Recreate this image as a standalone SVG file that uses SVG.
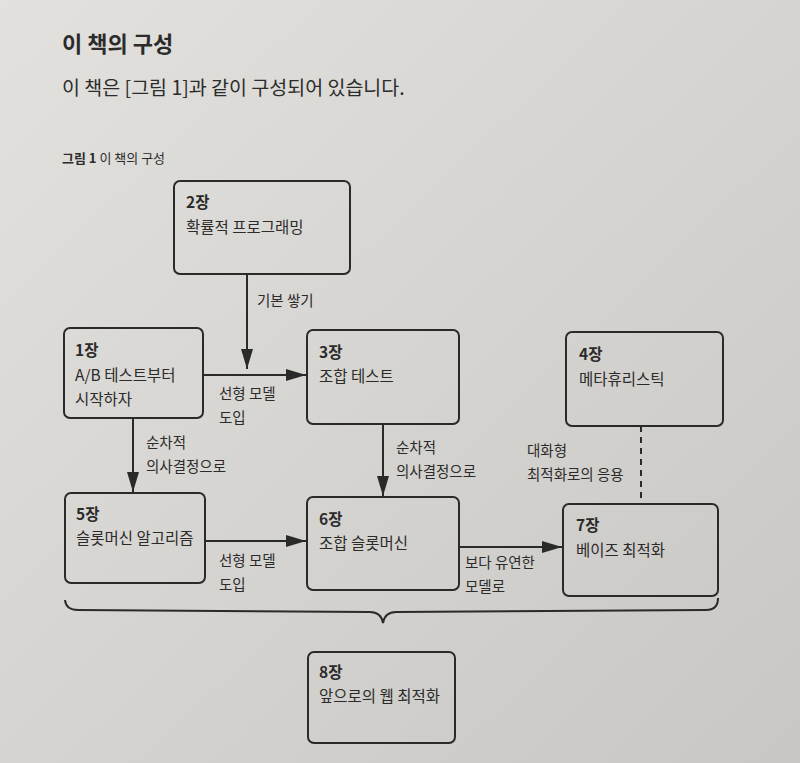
<svg xmlns="http://www.w3.org/2000/svg" width="800" height="763" viewBox="0 0 800 763">
<defs>
<linearGradient id="bg" x1="0" y1="0" x2="1" y2="1">
<stop offset="0" stop-color="#e2e1de"/>
<stop offset="0.5" stop-color="#d6d4d0"/>
<stop offset="1" stop-color="#c9c7c3"/>
</linearGradient>
<marker id="ahL" viewBox="0 0 20 12" refX="20" refY="6" markerWidth="20" markerHeight="12" markerUnits="userSpaceOnUse" orient="auto">
<path d="M0,0 L20,6 L0,12 z" fill="#2a2a2a"/>
</marker>
</defs>
<style>
text { font-family: "Noto Sans CJK KR", "Noto Sans", sans-serif; fill: #2b2b2b; }
.box { fill: none; stroke: #2a2a2a; stroke-width: 2; }
.t { font-size: 15.5px; }
.n { font-size: 15.5px; font-weight: bold; }
.lbl { font-size: 14.5px; }
.ln { stroke: #2a2a2a; stroke-width: 2; fill: none; }
</style>
<rect width="800" height="763" fill="url(#bg)"/>
<text x="62" y="52" style="font-size:22px;font-weight:bold;">이 책의 구성</text>
<text x="62" y="95" style="font-size:19.5px;">이 책은 [그림 1]과 같이 구성되어 있습니다.</text>
<text x="62" y="163" style="font-size:13px;"><tspan font-weight="bold">그림 1</tspan> 이 책의 구성</text>

<g id="connectors">
<line class="ln" x1="247" y1="274" x2="247" y2="369" marker-end="url(#ahL)"/>
<line class="ln" x1="203" y1="375" x2="306" y2="375" marker-end="url(#ahL)"/>
<line class="ln" x1="133" y1="418" x2="133" y2="492" marker-end="url(#ahL)"/>
<line class="ln" x1="383" y1="424" x2="383" y2="496" marker-end="url(#ahL)"/>
<line class="ln" x1="205" y1="541" x2="306" y2="541" marker-end="url(#ahL)"/>
<line class="ln" x1="459" y1="547" x2="562" y2="547" marker-end="url(#ahL)"/>
<line class="ln" x1="641" y1="426" x2="641" y2="504" stroke-dasharray="6,5"/>
<path class="ln" d="M65,600 Q66,610 78,610 L370,612 Q381,612 383,623 Q385,612 396,612 L706,610 Q718,610 718,598"/>
<text class="lbl" x="257" y="306">기본 쌓기</text>
<text class="lbl" x="219" y="399">선형 모델</text>
<text class="lbl" x="219" y="423">도입</text>
<text class="lbl" x="146" y="448">순차적</text>
<text class="lbl" x="146" y="472">의사결정으로</text>
<text class="lbl" x="396" y="453">순차적</text>
<text class="lbl" x="396" y="477">의사결정으로</text>
<text class="lbl" x="527" y="456">대화형</text>
<text class="lbl" x="527" y="480">최적화로의 응용</text>
<text class="lbl" x="219" y="566">선형 모델</text>
<text class="lbl" x="219" y="590">도입</text>
<text class="lbl" x="465" y="568">보다 유연한</text>
<text class="lbl" x="465" y="592">모델로</text>
</g>

<g id="n2"><rect class="box" x="174" y="181" width="176" height="93" rx="6"/><text class="n" x="186" y="208">2장</text><text class="t" x="186" y="233">확률적 프로그래밍</text></g>
<g id="n1"><rect class="box" x="64" y="328" width="139" height="90" rx="6"/><text class="n" x="75" y="356">1장</text><text class="t" x="75" y="381">A/B 테스트부터</text><text class="t" x="75" y="405">시작하자</text></g>
<g id="n3"><rect class="box" x="307" y="330" width="152" height="94" rx="6"/><text class="n" x="319" y="358">3장</text><text class="t" x="319" y="382">조합 테스트</text></g>
<g id="n4"><rect class="box" x="566" y="332" width="157" height="94" rx="6"/><text class="n" x="579" y="360">4장</text><text class="t" x="579" y="385">메타휴리스틱</text></g>
<g id="n5"><rect class="box" x="65" y="493" width="140" height="90" rx="6"/><text class="n" x="76" y="520">5장</text><text class="t" x="76" y="544">슬롯머신 알고리즘</text></g>
<g id="n6"><rect class="box" x="307" y="497" width="152" height="93" rx="6"/><text class="n" x="319" y="525">6장</text><text class="t" x="319" y="549">조합 슬롯머신</text></g>
<g id="n7"><rect class="box" x="563" y="504" width="155" height="92" rx="6"/><text class="n" x="576" y="531">7장</text><text class="t" x="576" y="556">베이즈 최적화</text></g>
<g id="n8"><rect class="box" x="308" y="652" width="147" height="91" rx="6"/><text class="n" x="319" y="678">8장</text><text class="t" x="319" y="702">앞으로의 웹 최적화</text></g>
</svg>
